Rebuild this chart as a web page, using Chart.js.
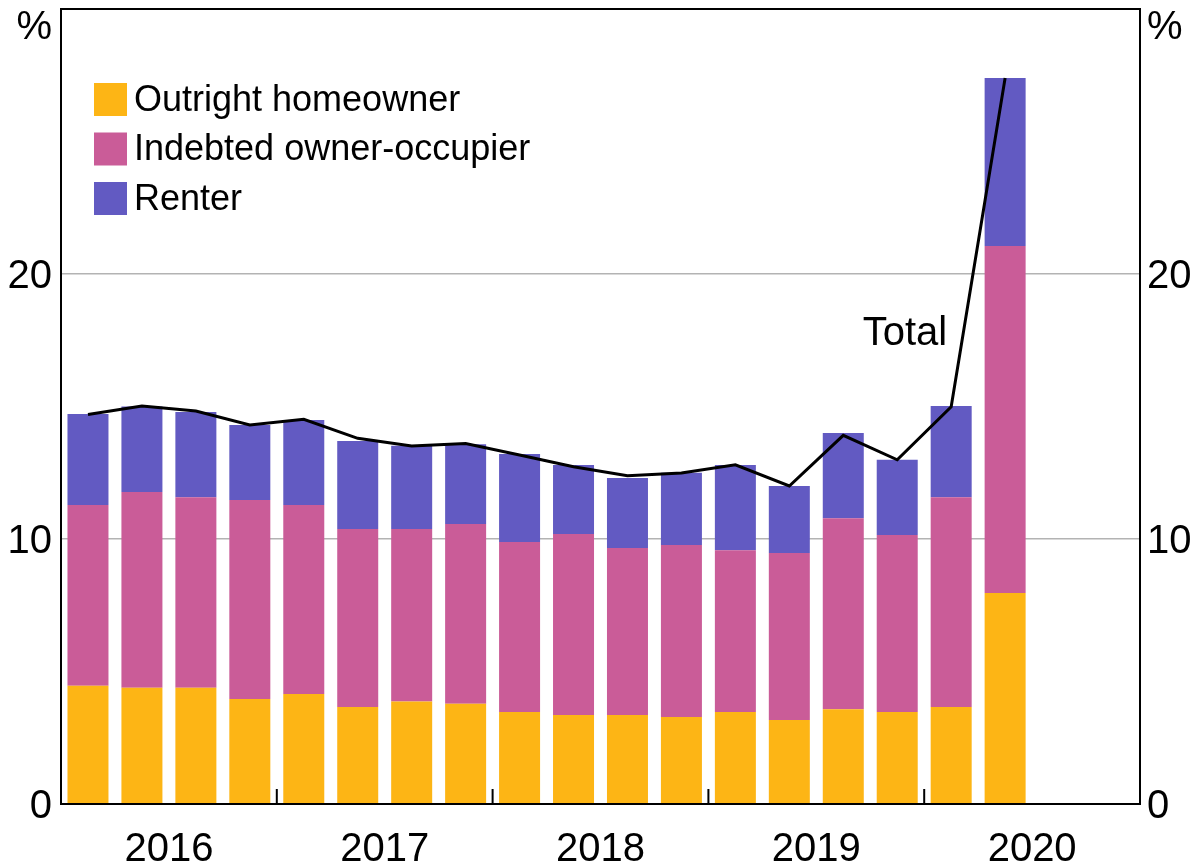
<!DOCTYPE html>
<html>
<head>
<meta charset="utf-8">
<title>Households by tenure</title>
<script src="https://cdn.jsdelivr.net/npm/chart.js@4"></script>
<style>
  body { margin: 0; background: #fff; }
  canvas { display: block; }
</style>
</head>
<body>
<canvas id="myBarChart" width="1196" height="863"></canvas>
<script>
// quarters 2016 Q1 .. 2020 Q4 (last two have no data yet)
var quarters = ["2016Q1","2016Q2","2016Q3","2016Q4","2017Q1","2017Q2","2017Q3","2017Q4",
                "2018Q1","2018Q2","2018Q3","2018Q4","2019Q1","2019Q2","2019Q3","2019Q4",
                "2020Q1","2020Q2","2020Q3","2020Q4"];
var years = ["2016","2017","2018","2019","2020"];

var outright = [4.46, 4.39, 4.39, 3.96, 4.15, 3.66, 3.87, 3.78, 3.47, 3.36, 3.36, 3.28, 3.47, 3.17, 3.58, 3.47, 3.66, 7.96];
var indebted = [6.82, 7.38, 7.19, 7.51, 7.13, 6.72, 6.51, 6.79, 6.42, 6.83, 6.30, 6.49, 6.11, 6.30, 7.20, 6.68, 7.92, 13.10];
var renter   = [3.44, 3.23, 3.21, 2.83, 3.21, 3.32, 3.14, 3.01, 3.32, 2.60, 2.64, 2.73, 3.21, 2.53, 3.22, 2.84, 3.44, 6.34];
var total    = [14.70, 15.02, 14.83, 14.30, 14.52, 13.80, 13.51, 13.60, 13.17, 12.73, 12.39, 12.49, 12.80, 12.00, 13.91, 12.99, 14.99, 27.40];

var yTicks = [0, 10, 20, 30];
var FONT = "'Liberation Sans', Arial, sans-serif";

// tick label: top one shows the unit, pushed half a line down
function tickLabel(v){
    if(v === 30) return ['', '%'];
    return String(v);
}

/*****枠・年目盛り・凡例・Total*****/
var decorPlugin = {
    id: 'decor',
    afterDraw: function(chart){
        var ctx = chart.ctx;
        var a = chart.chartArea;
        var xs = chart.scales.x;
        var ys = chart.scales.y;
        ctx.save();

        // frame
        ctx.strokeStyle = '#000';
        ctx.lineWidth = 2;
        ctx.strokeRect(a.left, a.top, a.right - a.left, a.bottom - a.top);

        // year boundary ticks
        for(var k = 1; k < years.length; k++){
            var x = (xs.getPixelForValue(4*k - 1) + xs.getPixelForValue(4*k)) / 2;
            ctx.beginPath();
            ctx.moveTo(x, a.bottom);
            ctx.lineTo(x, a.bottom - 15);
            ctx.stroke();
        }

        // legend
        ctx.font = '36px ' + FONT;
        ctx.textBaseline = 'middle';
        ctx.textAlign = 'left';
        var bars = chart.data.datasets.filter(function(d){ return d.type === 'bar'; });
        for(var i = 0; i < bars.length; i++){
            var top = a.top + 74 + i*49.5;
            ctx.fillStyle = bars[i].backgroundColor;
            ctx.fillRect(a.left + 33, top, 33, 33);
            ctx.fillStyle = '#000';
            ctx.fillText(bars[i].label, a.left + 73, top + 18);
        }

        // line label
        ctx.font = '40px ' + FONT;
        ctx.textAlign = 'right';
        ctx.fillText('Total', xs.getPixelForValue(16) - 4, ys.getPixelForValue(17.75));
        ctx.restore();
    }
};

var ctx = document.getElementById("myBarChart");
var myBarChart = new Chart(ctx, {
    type: 'bar',
    data: {
        labels: quarters,
        datasets: [
            { type: 'line', label: 'Total', data: total, borderColor: '#000', borderWidth: 3,
              pointRadius: 0, tension: 0, fill: false, stack: 'total', order: 0 },
            { type: 'bar', label: 'Outright homeowner', data: outright, backgroundColor: '#FDB515', stack: 'a', order: 1 },
            { type: 'bar', label: 'Indebted owner-occupier', data: indebted, backgroundColor: '#CA5C98', stack: 'a', order: 1 },
            { type: 'bar', label: 'Renter', data: renter, backgroundColor: '#625AC2', stack: 'a', order: 1 }
        ]
    },
    options: {
        responsive: false,
        animation: false,
        layout: { padding: { top: 9, left: 0, right: 0, bottom: 0 } },
        datasets: { bar: { barPercentage: 0.76, categoryPercentage: 1, borderWidth: 0 } },
        plugins: { legend: { display: false }, tooltip: { enabled: false } },
        scales: {
            x: {
                stacked: true,
                grid: { display: false },
                border: { display: false },
                ticks: {
                    autoSkip: false, maxRotation: 0, minRotation: 0,
                    labelOffset: 27, padding: 14, color: '#000',
                    font: { size: 40, family: FONT, lineHeight: 1.2 },
                    callback: function(v, idx){ return idx % 4 === 1 ? years[Math.floor(idx/4)] : ''; }
                },
                afterFit: function(s){ s.height = 59; s.paddingLeft = 0; s.paddingRight = 0; }
            },
            y: {
                stacked: true, min: 0, max: 30,
                grid: { color: '#b3b3b3', lineWidth: 1.5, drawTicks: false },
                border: { display: false },
                afterBuildTicks: function(s){ s.ticks = yTicks.map(function(v){ return {value: v}; }); },
                ticks: {
                    padding: 9, labelOffset: 3, color: '#000',
                    font: { size: 40, family: FONT, lineHeight: 0.8 },
                    callback: tickLabel
                },
                afterFit: function(s){ s.width = 61; s.paddingTop = 0; s.paddingBottom = 0; }
            },
            y2: {
                position: 'right', min: 0, max: 30,
                grid: { display: false, drawTicks: false },
                border: { display: false },
                afterBuildTicks: function(s){ s.ticks = yTicks.map(function(v){ return {value: v}; }); },
                ticks: {
                    padding: 7, labelOffset: 3, color: '#000',
                    font: { size: 40, family: FONT, lineHeight: 0.8 },
                    callback: tickLabel
                },
                afterFit: function(s){ s.width = 56; s.paddingTop = 0; s.paddingBottom = 0; }
            }
        }
    },
    plugins: [decorPlugin]
});
</script>
</body>
</html>
